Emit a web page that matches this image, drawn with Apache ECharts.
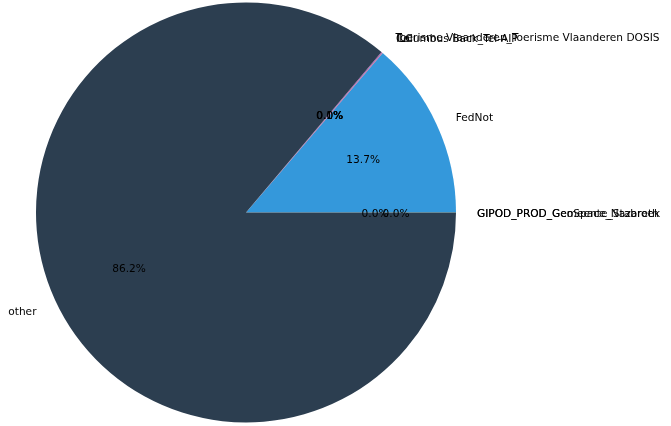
<!DOCTYPE html>
<html><head><meta charset="utf-8">
<script src="https://cdn.jsdelivr.net/npm/echarts@6/dist/echarts.min.js"></script>
<style>html,body{margin:0;padding:0;background:#fff}#c{width:671px;height:426px}</style>
</head><body><div id="c"></div>
<script>
const categories = ["GIPOD_PROD_Gemeente_Stabroek","GIPOD_PROD_GeoSpace_Nazareth","FedNot","ILC","Columbus Back_Tel-AIP","Toerisme Vlaanderen_Toerisme Vlaanderen DOSIS","other"];
const values = [0.01, 0.01, 13.7, 0.02, 0.03, 0.07, 86.16];
const colors = ["#1abc9c","#2ecc71","#3498db","#9b59b6","#e74c3c","#9b59b6","#2c3e50"];

const total = values.reduce((a,b)=>a+b,0);
const R = 210, cx = 246, cy = 212.5;
const font = {fontFamily:'DejaVu Sans', fontSize:10.6, color:'#000'};
const data = categories.map((n,i)=>({name:n, value:values[i], itemStyle:{color:colors[i]}}));
const chart = echarts.init(document.getElementById('c'), null, {renderer:'canvas'});
chart.setOption({
  animation:false,
  series:[
    {type:'pie', center:[cx,cy], radius:[0,R], startAngle:0, clockwise:false,
     avoidLabelOverlap:false, minShowLabelAngle:0, stillShowZeroSum:true,
     itemStyle:{borderWidth:0},
     label:{show:true, position:'outside', distanceToLabelLine:0, formatter:'{b}', offset:[0,2], ...font},
     labelLine:{show:false, length:R*0.1, length2:0},
     labelLayout:{hideOverlap:false},
     emphasis:{disabled:true},
     data:data},
    {type:'pie', center:[cx,cy], radius:[0,R*1.2], startAngle:0, clockwise:false,
     avoidLabelOverlap:false, silent:true, minShowLabelAngle:0,
     itemStyle:{color:'rgba(0,0,0,0)', borderWidth:0},
     label:{show:true, position:'inside', formatter:p=>(p.value/total*100).toFixed(1)+'%', offset:[0,2], ...font},
     labelLine:{show:false},
     labelLayout:{hideOverlap:false},
     emphasis:{disabled:true},
     data:categories.map((n,i)=>({name:n, value:values[i], label: i===1?{offset:[21,2]}:undefined}))}
  ]
});
</script></body></html>
